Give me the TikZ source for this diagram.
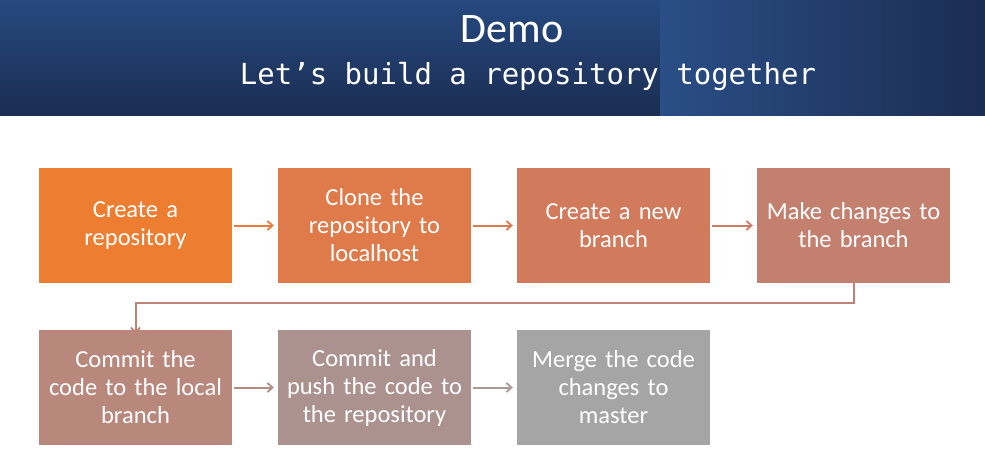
\documentclass[tikz,border=0pt]{standalone}
\usepackage{fontspec}
\setmainfont{Carlito}
\newfontfamily\codefont{DejaVu Sans Mono}
\usetikzlibrary{arrows.meta}

\definecolor{hdrA}{RGB}{37,72,126}
\definecolor{hdrB}{RGB}{27,45,82}
\definecolor{hdrC}{RGB}{42,78,134}
\definecolor{cA}{RGB}{237,125,49}
\definecolor{cB}{RGB}{223,123,74}
\definecolor{cC}{RGB}{209,122,92}
\definecolor{cD}{RGB}{196,128,111}
\definecolor{cE}{RGB}{184,136,125}
\definecolor{cF}{RGB}{172,146,142}
\definecolor{cG}{RGB}{165,165,165}

\tikzset{
  stepbox/.style={minimum width=193pt, minimum height=115pt, inner xsep=2pt, inner ysep=3pt,
    text width=189pt, align=center, text=white, font=\fontsize{24.5}{28}\selectfont, draw=none},
  flow/.style={line width=2pt, -{Straight Barb[length=5pt,width=9pt,line width=1.8pt]}},
}

\begin{document}
\begin{tikzpicture}[x=1pt,y=-1pt]
  \useasboundingbox (0,0) rectangle (985,472);
  \fill[white] (0,0) rectangle (985,472);

  % title band
  \shade[top color=hdrA!80!hdrC, bottom color=hdrB] (0,0) rectangle (660,115);
  \shade[left color=hdrC, right color=hdrB] (660,0) rectangle (985,115);

  \node[text=white, font=\fontsize{42}{44}\selectfont] (title) at (512,29) {Demo};
  \node[text=white, font=\codefont\fontsize{29}{31}\selectfont] (subtitle) at (528,77) {Let’s build a repository together};

  % process steps
  \node[stepbox, fill=cA] (s1) at (135.5,225.5) {Create a\\repository};
  \node[stepbox, fill=cB] (s2) at (374.5,225.5) {Clone the\\repository to\\localhost};
  \node[stepbox, fill=cC] (s3) at (613.5,225.5) {Create a new\\branch};
  \node[stepbox, fill=cD] (s4) at (853.5,225.5) {Make changes to\\the branch};
  \node[stepbox, fill=cE] (s5) at (135.5,387.5) {Commit the\\code to the local\\branch};
  \node[stepbox, fill=cF] (s6) at (374.5,387.5) {Commit and\\push the code to\\the repository};
  \node[stepbox, fill=cG] (s7) at (613.5,387.5) {Merge the code\\changes to\\master};

  % connectors
  \draw[flow, draw=cA!60!cB] ([xshift=2pt]s1.east) -- ([xshift=-4pt]s2.west);
  \draw[flow, draw=cB!60!cC] ([xshift=2pt]s2.east) -- ([xshift=-4pt]s3.west);
  \draw[flow, draw=cC!60!cD] ([xshift=2pt]s3.east) -- ([xshift=-4pt]s4.west);
  \draw[flow, draw=cD!60!cE] ([yshift=1pt]s4.south) -- ++(0,21) -| ([yshift=-4pt]s5.north);
  \draw[flow, draw=cE!60!cF] ([xshift=2pt]s5.east) -- ([xshift=-4pt]s6.west);
  \draw[flow, draw=cF!60!cG] ([xshift=2pt]s6.east) -- ([xshift=-4pt]s7.west);
\end{tikzpicture}
\end{document}
